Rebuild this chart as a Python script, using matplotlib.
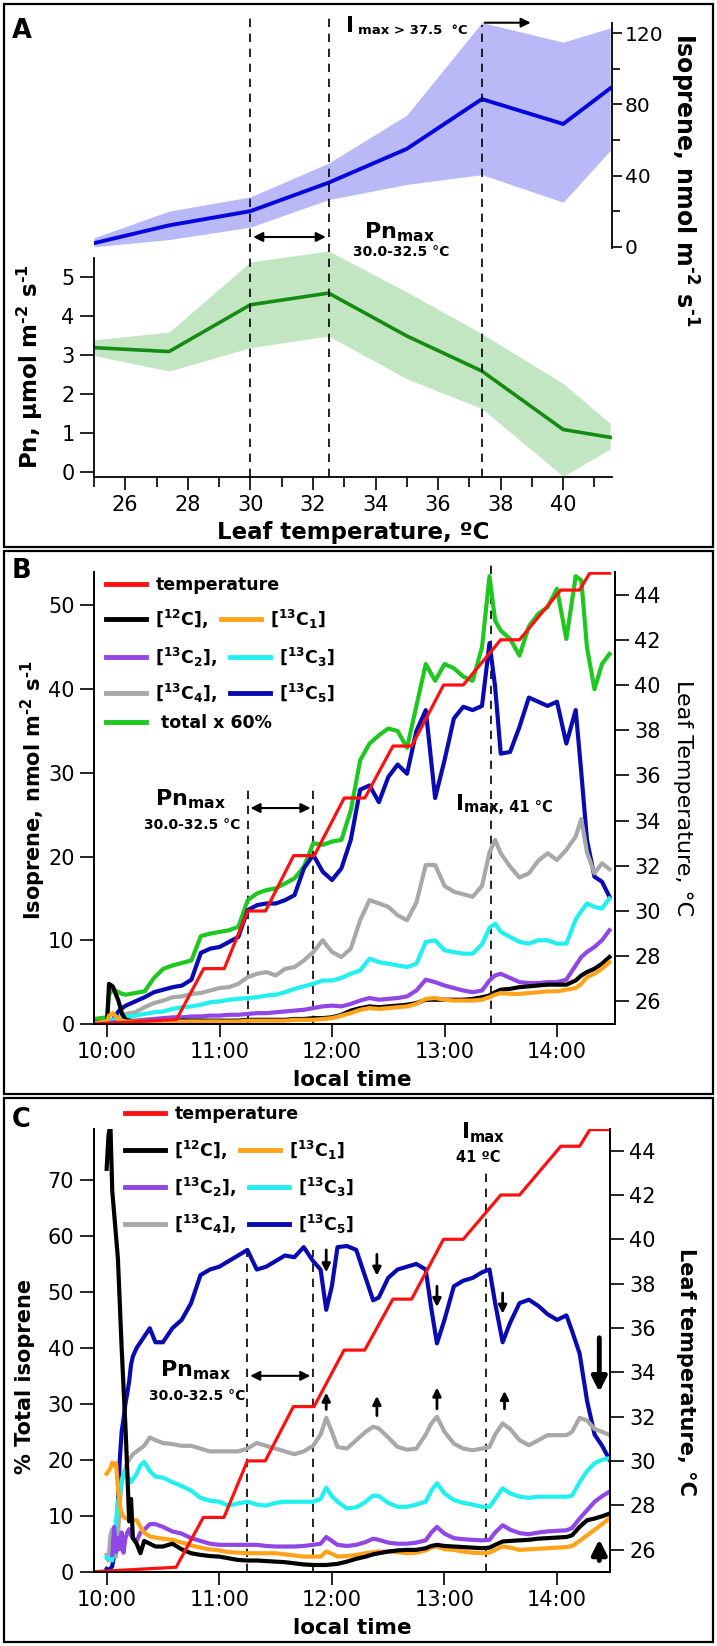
import numpy as np
import matplotlib
matplotlib.use("Agg")
import matplotlib.pyplot as plt
from matplotlib.lines import Line2D
from matplotlib.patches import Rectangle

# ---------------- panel A: leaf temperature response ----------------
a_temp = [25, 27.4, 30, 32.5, 35, 37.4, 40, 41.5]
a_iso = [2, 12, 20, 36, 55, 83, 69, 89]
a_iso_hi = [5, 20, 28, 47, 74, 126, 115, 123]
a_iso_lo = [0, 4, 11, 26.5, 35, 40.5, 25, 54]
a_pn = [3.2, 3.1, 4.3, 4.6, 3.5, 2.6, 1.1, 0.9]
a_pn_hi = [3.4, 3.6, 5.4, 5.68, 4.63, 3.56, 2.28, 1.26]
a_pn_lo = [3.0, 2.6, 3.2, 3.5, 2.4, 1.64, -0.1, 0.6]

# ---------------- leaf temperature programme (minutes after 10:00) ----------------
temp_min = [-7, 37, 51.5, 62.5, 75, 84.5, 99.5, 110.5, 126.5, 137.5, 152.5, 162.5,
            179.5, 190, 210, 220, 242, 252, 257.5, 268]
temp_c = [25.0, 25.2, 27.45, 27.45, 30.0, 30.0, 32.45, 32.45, 35.0, 35.0, 37.3, 37.3,
          40.0, 40.0, 42.0, 42.0, 44.2, 44.2, 44.95, 44.95]

# ---------------- panel B: isoprene emission, nmol m-2 s-1 ----------------
b_min = [-7, 0, 1, 3, 6, 8, 10, 15, 20, 25, 30, 35, 40, 45, 50, 55, 60, 65, 70, 75, 80,
         85, 90, 95, 100, 105, 110, 115, 120, 125, 130, 135, 140, 145, 150, 155, 160, 165,
         170, 175, 180, 185, 190, 195, 200, 204, 207, 210, 215, 220, 225, 230, 235, 240,
         245, 250, 253, 256, 260, 264, 268]
b_total = [0.6, 0.8, 3.5, 4.2, 3.8, 3.6, 3.5, 3.7, 3.9, 5.5, 6.6, 7.0, 7.3, 7.6, 10.5, 10.8,
           11.0, 11.2, 11.6, 14.8, 15.6, 16.0, 16.2, 16.8, 17.4, 18.8, 21.6, 21.4, 21.8, 22.0,
           25.5, 31.5, 33.5, 34.5, 35.3, 35.0, 33.0, 38.0, 43.0, 41.0, 43.0, 42.5, 41.5, 41.0,
           45.0, 53.5, 48.2, 47.0, 46.0, 44.0, 47.5, 49.0, 49.8, 52.0, 46.0, 53.5, 53.0, 45.0,
           40.0, 43.0, 44.2]
b_c5 = [0.2, 0.2, 0.2, 0.5, 1.5, 1.9, 2.2, 2.7, 3.2, 3.8, 4.1, 4.4, 4.6, 5.3, 8.5, 9.0, 9.2,
        9.8, 10.4, 13.6, 14.2, 14.4, 14.4, 14.8, 15.4, 18.6, 20.2, 18.2, 17.2, 18.6, 22.0,
        28.0, 28.5, 26.5, 29.5, 31.0, 29.9, 35.0, 37.5, 27.0, 31.5, 36.5, 37.9, 37.5, 38.0,
        45.5, 40.3, 32.3, 32.5, 35.5, 39.0, 38.5, 38.0, 38.5, 33.5, 37.5, 30.0, 22.0, 17.6,
        17.0, 15.2]
b_c4 = [0.0, 0.2, 0.3, 0.5, 0.8, 1.0, 1.2, 1.4, 2.0, 2.5, 2.8, 3.2, 3.3, 3.6, 3.7, 4.0, 4.3,
        4.4, 4.8, 5.6, 6.0, 6.2, 5.8, 6.6, 6.8, 7.6, 8.6, 10.0, 8.6, 8.0, 9.0, 12.4, 14.8,
        14.4, 14.0, 13.0, 12.4, 14.5, 19.0, 19.0, 16.5, 15.8, 15.5, 15.2, 16.5, 20.5, 22.0,
        20.4, 18.8, 17.5, 18.0, 19.5, 20.4, 19.6, 20.8, 22.4, 24.5, 20.5, 18.0, 19.2, 18.5]
b_c3 = [0.0, 0.3, 0.4, 0.5, 0.6, 0.8, 0.9, 1.0, 1.2, 1.4, 1.5, 1.8, 2.0, 2.1, 2.3, 2.6, 2.7,
        2.9, 3.0, 3.1, 3.2, 3.4, 3.5, 3.8, 4.2, 4.5, 4.8, 5.2, 5.2, 5.5, 6.0, 6.4, 7.8, 7.4,
        7.2, 7.0, 6.8, 7.2, 9.8, 10.0, 8.8, 8.6, 8.4, 8.4, 9.5, 11.5, 12.0, 11.0, 10.4, 9.8,
        9.6, 10.0, 10.0, 9.6, 9.6, 12.5, 13.5, 14.4, 14.0, 13.8, 15.0]
b_c2 = [0.0, 0.1, 0.1, 0.2, 0.2, 0.3, 0.3, 0.4, 0.5, 0.6, 0.7, 0.8, 0.8, 0.9, 0.9, 1.0, 1.0,
        1.1, 1.1, 1.2, 1.3, 1.3, 1.4, 1.5, 1.6, 1.7, 1.9, 2.1, 2.2, 2.1, 2.4, 2.8, 3.1, 2.9,
        3.0, 3.1, 3.3, 4.0, 5.3, 5.0, 4.6, 4.3, 4.0, 3.8, 4.0, 5.2, 5.8, 6.0, 5.5, 5.0, 4.9,
        4.9, 5.0, 5.0, 5.3, 7.0, 8.0, 8.6, 9.2, 10.0, 11.2]
b_c12 = [0.1, 0.2, 4.8, 4.5, 2.8, 1.2, 0.5, 0.3, 0.3, 0.3, 0.3, 0.3, 0.4, 0.4, 0.4, 0.4, 0.4,
         0.4, 0.4, 0.5, 0.5, 0.5, 0.5, 0.5, 0.6, 0.6, 0.7, 0.7, 0.8, 1.1, 1.6, 1.9, 2.1, 2.0,
         2.1, 2.2, 2.3, 2.5, 2.9, 2.9, 2.9, 2.9, 2.9, 3.0, 3.2, 3.4, 3.8, 4.1, 4.2, 4.4, 4.5,
         4.6, 4.7, 4.7, 4.7, 5.2, 5.8, 6.2, 6.6, 7.2, 8.0]
b_c1 = [0.1, 0.3, 1.0, 1.3, 0.6, 0.4, 0.3, 0.3, 0.3, 0.3, 0.3, 0.3, 0.3, 0.3, 0.3, 0.3, 0.3,
        0.3, 0.3, 0.4, 0.4, 0.4, 0.4, 0.4, 0.5, 0.5, 0.5, 0.6, 0.7, 1.0, 1.3, 1.7, 1.9, 1.8,
        1.9, 2.0, 2.1, 2.4, 3.0, 3.1, 2.9, 2.8, 2.8, 2.8, 2.9, 3.2, 3.5, 3.7, 3.6, 3.6, 3.7,
        3.8, 3.9, 3.9, 4.1, 4.3, 4.8, 5.6, 6.0, 6.6, 7.4]

# ---------------- panel C: share of total isoprene, % ----------------
c_min = [0, 1, 2, 3, 4, 5, 6, 7, 8, 9, 10, 11, 12, 13, 14, 16, 18, 20, 23, 26, 30, 35, 40,
         45, 50, 55, 60, 65, 70, 75, 80, 85, 90, 95, 100, 105, 110, 114, 117, 120, 123, 128,
         133, 138, 142, 145, 150, 155, 160, 165, 170, 173, 176, 180, 185, 190, 195, 200, 204,
         207, 211, 215, 220, 225, 230, 235, 240, 245, 248, 252, 256, 260, 264, 268]
c_c12 = [72, 78, 80, 68, 64, 60, 56, 48, 40, 33, 26, 18, 9, 13, 6, 5, 3.3, 5.5, 5.0, 4.5,
         4.5, 5.0, 4.0, 3.3, 3.0, 2.8, 2.7, 2.4, 2.1, 2.0, 2.0, 1.9, 1.8, 1.7, 1.5, 1.3, 1.2,
         1.2, 1.2, 1.3, 1.4, 1.8, 2.3, 2.7, 3.1, 3.3, 3.6, 3.8, 3.9, 3.9, 4.2, 4.6, 4.8, 4.6,
         4.5, 4.4, 4.3, 4.2, 4.3, 4.8, 5.4, 5.5, 5.6, 5.7, 5.9, 6.0, 6.1, 6.2, 6.5, 8.0, 9.2,
         9.5, 9.9, 10.4]
c_c1 = [17.5, 18.0, 18.5, 19.5, 19.0, 19.4, 15.0, 12.0, 10.5, 9.8, 9.6, 9.5, 9.4, 9.3, 9.2,
        9.2, 8.0, 7.0, 6.3, 6.1, 5.9, 5.7, 5.2, 4.7, 4.3, 4.0, 3.8, 3.5, 3.4, 3.3, 3.3, 3.3,
        3.3, 3.1, 2.9, 2.7, 2.7, 2.7, 3.6, 3.2, 2.7, 2.8, 3.0, 3.3, 3.5, 3.6, 3.6, 3.5, 3.3,
        3.4, 3.8, 4.3, 4.5, 4.0, 3.9, 3.6, 3.4, 3.3, 3.4, 3.9, 4.5, 4.3, 3.9, 4.0, 4.1, 4.2,
        4.3, 4.4, 4.6, 5.5, 6.5, 7.5, 8.5, 9.6]
c_c4 = [3.0, 2.0, 6.5, 7.6, 3.0, 2.7, 6.0, 12.0, 16.4, 17.5, 18.5, 19.5, 20.0, 20.5, 21.0,
        21.5, 22.0, 22.5, 24.0, 23.5, 23.0, 22.8, 22.5, 22.5, 22.0, 21.5, 21.5, 21.5, 21.5,
        22.0, 23.0, 22.5, 22.0, 21.5, 21.0, 21.5, 22.5, 24.5, 27.5, 25.0, 22.3, 22.0, 23.5,
        25.0, 25.9, 25.6, 24.0, 22.3, 21.8, 22.0, 24.5, 26.5, 27.7, 25.0, 22.9, 22.0, 21.7,
        22.0, 22.3, 24.5, 26.5, 25.5, 23.5, 22.6, 23.5, 24.4, 24.4, 24.4, 25.0, 27.5, 27.0,
        25.5, 25.0, 24.4]
c_c3 = [2.5, 2.5, 2.2, 2.0, 5.0, 9.0, 12.5, 14.0, 16.0, 17.0, 18.2, 17.5, 16.5, 16.0, 16.5,
        17.5, 19.0, 19.6, 18.0, 17.0, 16.8, 16.0, 15.3, 14.5, 13.2, 12.7, 12.5, 11.8, 12.2,
        12.5, 12.0, 11.8, 12.3, 12.5, 12.5, 12.5, 12.5, 13.0, 15.0, 13.5, 12.5, 11.3, 11.5,
        12.5, 13.6, 13.5, 12.3, 11.6, 11.6, 12.0, 12.5, 14.5, 15.8, 14.0, 12.8, 12.3, 12.0,
        11.6, 11.6, 13.0, 14.9, 14.0, 13.4, 13.2, 13.4, 13.4, 13.4, 13.4, 13.6, 16.0, 18.0,
        19.4, 20.0, 20.3]
c_c2 = [np.nan, np.nan, np.nan, 3.0, 8.0, 3.5, 6.0, 4.0, 7.0, 3.4, 6.0, 7.0, 7.6, 6.5, 6.0,
        5.5, 7.0, 7.5, 8.5, 8.5, 8.0, 7.2, 6.8, 6.0, 5.5, 5.0, 4.8, 4.8, 4.8, 4.8, 4.8, 4.6,
        4.5, 4.5, 4.5, 4.6, 4.8, 5.0, 6.2, 5.5, 4.8, 4.6, 4.8, 5.3, 5.9, 5.7, 5.2, 5.0, 5.0,
        5.2, 5.6, 7.0, 8.0, 6.8, 6.0, 5.8, 5.7, 5.6, 5.7, 7.0, 8.3, 7.5, 6.9, 6.7, 7.0, 7.2,
        7.3, 7.4, 7.8, 9.5, 11.0, 12.5, 13.5, 14.3]
c_c5 = [0.5, 0.3, 0.5, 1.0, 3.0, 5.5, 12.0, 20.0, 25.0, 27.3, 30.0, 31.9, 34.0, 37.0, 38.5,
        40.0, 41.0, 42.0, 43.5, 41.0, 41.0, 43.5, 45.0, 48.0, 53.0, 54.0, 54.5, 55.5, 56.5,
        57.5, 54.0, 54.5, 55.5, 56.5, 56.2, 58.0, 55.5, 54.0, 46.8, 51.0, 58.0, 58.2, 57.5,
        52.5, 48.5, 49.0, 52.5, 54.0, 54.5, 55.0, 54.0, 47.0, 40.8, 45.0, 51.0, 52.0, 52.5,
        53.5, 54.0, 48.0, 41.0, 44.5, 48.0, 48.6, 47.5, 46.0, 45.0, 45.8, 43.0, 39.0, 30.5,
        24.5, 22.5, 20.0]

# arrows in panel C: (minute, start value, end value)
c_down_arrows = [(117, 58.0, 53.0), (144, 57.2, 52.4), (176, 51.5, 46.8), (211, 50.3, 45.6)]
c_up_arrows = [(117, 28.5, 32.5), (144, 27.4, 31.9), (176, 28.6, 33.4), (212, 28.6, 32.8)]
c_big_arrows = [(262.5, 42.3, 31.6), (262.5, 1.5, 6.3)]

time_ticks = [10, 11, 12, 13, 14]
time_labels = ["10:00", "11:00", "12:00", "13:00", "14:00"]

col = {"temp": "#ff1010", "c12": "#000000", "c1": "#ffa31a", "c2": "#9146e6",
       "c3": "#20f0f0", "c4": "#a8a8a8", "c5": "#0a0ab4", "total": "#1ec81e"}

plt.rcParams["font.family"] = ["DejaVu Sans"]
plt.rcParams["mathtext.fontset"] = "dejavusans"
plt.rcParams["mathtext.default"] = "bf"

HY = "\N{HYPHEN}"
UNIT = "m$^{" + HY + "2}$ s$^{" + HY + "1}$"

W, H = 717, 1646
fig = plt.figure(figsize=(W / 100, H / 100), dpi=100)


def rect(l, t, r, b):
    return [l / W, 1 - b / H, (r - l) / W, (b - t) / H]


def ftext(x, y, s, **kw):
    kw.setdefault("fontweight", "bold")
    return fig.text(x / W, 1 - y / H, s, **kw)


def hours(m):
    return 10 + np.asarray(m, dtype=float) / 60.0


def style(ax, lab=15):
    ax.tick_params(direction="out", length=10, width=1.2, labelsize=lab, pad=4)
    for s in ax.spines.values():
        s.set_linewidth(1.3)


# panel frames
for t, b in [(4, 547), (551, 1094), (1098, 1642)]:
    fig.add_artist(Rectangle((4 / W, 1 - b / H), 709 / W, (b - t) / H,
                             transform=fig.transFigure, fill=False, lw=1.6, ec="k"))

# ======================= panel A =======================
A_XLIM = (25, 41.56)
axPn = fig.add_axes(rect(94, 258, 612, 476.7))
axPn.fill_between(a_temp, a_pn_lo, a_pn_hi, color="#c2e6c2", lw=0, clip_on=False)
axPn.plot(a_temp, a_pn, color="#148c14", lw=2.6)
axPn.set_xlim(*A_XLIM)
axPn.set_ylim(-0.11, 5.5)
axPn.spines["top"].set_visible(False)
axPn.spines["right"].set_visible(False)
axPn.set_xticks(range(26, 41, 2))
axPn.set_xticks(range(25, 42, 2), minor=True)
axPn.set_yticks(range(0, 6))
style(axPn)
axPn.tick_params(axis="x", which="minor", length=7, width=1.2)
axPn.tick_params(axis="x", length=9)

axIso = fig.add_axes(rect(94, 23.3, 612, 247.9))
axIso.patch.set_visible(False)
axIso.fill_between(a_temp, a_iso_lo, a_iso_hi, color="#b9b9f7", lw=0, clip_on=False)
axIso.plot(a_temp, a_iso, color="#0505e0", lw=2.8)
axIso.set_xlim(*A_XLIM)
axIso.set_ylim(-0.67, 125.6)
for s in ["left", "top", "bottom"]:
    axIso.spines[s].set_visible(False)
axIso.xaxis.set_visible(False)
axIso.yaxis.tick_right()
axIso.set_yticks([0, 40, 80, 120])
axIso.set_yticks([20, 60, 100], minor=True)
style(axIso, lab=14.5)
axIso.tick_params(axis="y", length=7, pad=2)
axIso.tick_params(axis="y", which="minor", length=6, width=1.2)

# overlay with x in degC and y in pixels for the annotations of panel A
ovA = fig.add_axes(rect(94, 10, 612, 476.7))
ovA.set_xlim(*A_XLIM)
ovA.set_ylim(476.7, 10)
ovA.axis("off")
ovA.vlines([30, 32.5], 476.7, 15, colors="k", linestyles=(0, (5, 4)), lw=1.2)
ovA.vlines([37.4], 476.7, 25, colors="k", linestyles=(0, (5, 4)), lw=1.2)
ovA.annotate("", xy=(39.05, 22.7), xytext=(37.4, 22.7),
             arrowprops=dict(arrowstyle="-|>", lw=1.5, color="k", mutation_scale=14))
ovA.annotate("", xy=(32.5, 237), xytext=(30, 237),
             arrowprops=dict(arrowstyle="<|-|>", lw=1.5, color="k", mutation_scale=14))

ftext(12, 38, "A", fontsize=18.5, va="baseline")
ftext(346, 32, "I", fontsize=15.5, va="baseline")
ftext(358, 34, "max > 37.5  °C", fontsize=9.5, va="baseline")
ftext(399, 238, r"Pn$_{max}$", fontsize=16, va="baseline", ha="center")
ftext(401, 256, "30.0-32.5 °C", fontsize=10, va="baseline", ha="center")
ftext(30, 367, "Pn, μmol " + UNIT, fontsize=16.5, rotation=90,
      ha="center", va="center")
ftext(684, 180, "Isoprene, nmol " + UNIT, fontsize=17, rotation=270,
      ha="center", va="center")
ftext(353, 533, "Leaf temperature, ºC", fontsize=16.5, ha="center", va="center")


def time_axes(ax, xlim):
    ax.set_xlim(*xlim)
    ax.set_xticks(time_ticks)
    ax.set_xticklabels(time_labels)
    ax.spines["top"].set_visible(False)
    style(ax)
    ax.tick_params(axis="x", length=9)


def legend_row(items, x, y):
    hs = [Line2D([], [], color=col[k], lw=3.5) for k, _ in items]
    leg = fig.legend(hs, [lab for _, lab in items], loc="center left",
                     bbox_to_anchor=(x / W, 1 - y / H), ncol=len(items), frameon=False,
                     prop={"weight": "bold", "size": 12.5}, handlelength=2.3,
                     handletextpad=0.55, columnspacing=0.7, borderpad=0, borderaxespad=0)
    return leg


# ======================= panel B =======================
axB = fig.add_axes(rect(94, 572, 615, 1024))
tb = hours(b_min)
for key, data in [("total", b_total), ("c5", b_c5), ("c4", b_c4), ("c3", b_c3),
                  ("c2", b_c2), ("c12", b_c12), ("c1", b_c1)]:
    axB.plot(tb, data, color=col[key], lw=3.0)
time_axes(axB, (hours(-7), 14.516))
axB.set_ylim(0, 54)
axB.set_yticks(range(0, 51, 10))
axB.axvline(hours(75), 0, 0.529, color="k", ls=(0, (5, 4)), lw=1.2, zorder=0.5)
axB.axvline(hours(110), 0, 0.529, color="k", ls=(0, (5, 4)), lw=1.2, zorder=0.5)
axB.axvline(hours(204.8), 0, 1.02, color="k", ls=(0, (5, 4)), lw=1.2, zorder=0.5,
            clip_on=False)
axB.annotate("", xy=(hours(110), 25.8), xytext=(hours(75), 25.8),
             arrowprops=dict(arrowstyle="<|-|>", lw=1.5, color="k", mutation_scale=14))

axBT = axB.twinx()
axBT.plot(hours(temp_min), temp_c, color=col["temp"], lw=2.3)
axBT.set_ylim(25, 45)
axBT.set_yticks(range(26, 45, 2))
axBT.spines["top"].set_visible(False)
style(axBT)

legend_row([("temp", "temperature")], 106, 585)
legend_row([("c12", r"[$^{12}$C],"), ("c1", r"[$^{13}$C$_1$]")], 106, 619)
legend_row([("c2", r"[$^{13}$C$_2$],"), ("c3", r"[$^{13}$C$_3$]")], 106, 657)
legend_row([("c4", r"[$^{13}$C$_4$],"), ("c5", r"[$^{13}$C$_5$]")], 106, 693)
legend_row([("total", " total x 60%")], 106, 723)

ftext(12, 578, "B", fontsize=18.5, va="baseline")
ftext(190, 805, r"Pn$_{max}$", fontsize=16, va="baseline", ha="center")
ftext(192, 829, "30.0-32.5 °C", fontsize=10, va="baseline", ha="center")
ftext(456, 810, "I", fontsize=15.5, va="baseline")
ftext(464, 812, "max, 41 °C", fontsize=10.5, va="baseline")
ftext(33, 790, "Isoprene, nmol " + UNIT, fontsize=15, rotation=90,
      ha="center", va="center")
ftext(683, 798, "Leaf Temperature, °C", fontsize=16, rotation=270,
      ha="center", va="center", fontweight="normal")
ftext(352, 1080, "local time", fontsize=15.5, ha="center", va="center")

# ======================= panel C =======================
axC = fig.add_axes(rect(93.5, 1128.5, 610, 1571.7))
tc = hours(c_min)
for key, data in [("c5", c_c5), ("c4", c_c4), ("c3", c_c3), ("c2", c_c2),
                  ("c1", c_c1), ("c12", c_c12)]:
    axC.plot(tc, data, color=col[key], lw=3.0)
time_axes(axC, (hours(-7), 14.47))
axC.set_ylim(0, 79.2)
axC.set_yticks(range(0, 71, 10))
axC.axvline(hours(75), 0, 0.726, color="k", ls=(0, (5, 4)), lw=1.2, zorder=0.5)
axC.axvline(hours(110), 0, 0.726, color="k", ls=(0, (5, 4)), lw=1.2, zorder=0.5)
axC.axvline(hours(202), 0, 0.90, color="k", ls=(0, (5, 4)), lw=1.2, zorder=0.5)
axC.annotate("", xy=(hours(110), 35.0), xytext=(hours(75), 35.0),
             arrowprops=dict(arrowstyle="<|-|>", lw=1.5, color="k", mutation_scale=14))
for m, y0, y1 in c_down_arrows + c_up_arrows:
    axC.annotate("", xy=(hours(m), y1), xytext=(hours(m), y0),
                 arrowprops=dict(arrowstyle="-|>", lw=2.0, color="k", mutation_scale=12))
for m, y0, y1 in c_big_arrows:
    axC.annotate("", xy=(hours(m), y1), xytext=(hours(m), y0),
                 arrowprops=dict(arrowstyle="-|>", lw=3.5, color="k", mutation_scale=22))

axCT = axC.twinx()
axCT.plot(hours(temp_min), temp_c, color=col["temp"], lw=2.3)
axCT.set_ylim(25, 45)
axCT.set_yticks(range(26, 45, 2))
axCT.spines["top"].set_visible(False)
style(axCT)

legend_row([("temp", "temperature")], 125, 1114)
legend_row([("c12", r"[$^{12}$C],"), ("c1", r"[$^{13}$C$_1$]")], 125, 1150)
legend_row([("c2", r"[$^{13}$C$_2$],"), ("c3", r"[$^{13}$C$_3$]")], 125, 1187)
legend_row([("c4", r"[$^{13}$C$_4$],"), ("c5", r"[$^{13}$C$_5$]")], 125, 1224)

ftext(12, 1127, "C", fontsize=18.5, va="baseline")
ftext(195, 1376, r"Pn$_{max}$", fontsize=16, va="baseline", ha="center")
ftext(197, 1400, "30.0-32.5 °C", fontsize=10, va="baseline", ha="center")
ftext(462, 1138, "I", fontsize=15.5, va="baseline")
ftext(470, 1142, "max", fontsize=10.5, va="baseline")
ftext(478, 1162, "41 ºC", fontsize=10.5, va="baseline", ha="center")
ftext(25, 1376, "% Total isoprene", fontsize=15, rotation=90, ha="center", va="center")
ftext(686, 1372, "Leaf temperature, °C", fontsize=15, rotation=270,
      ha="center", va="center")
ftext(352, 1628, "local time", fontsize=15.5, ha="center", va="center")

fig.savefig("out.png", dpi=100)
